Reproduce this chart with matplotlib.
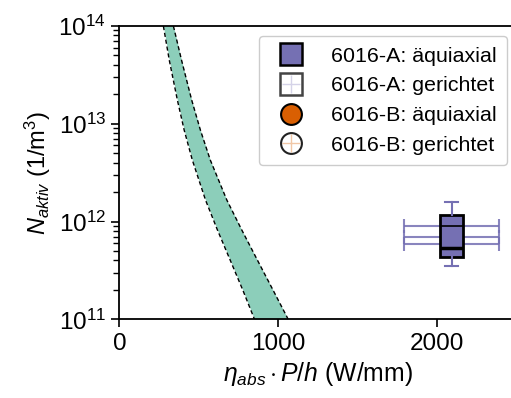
import numpy as np
import matplotlib
matplotlib.use("Agg")
import matplotlib.pyplot as plt
from matplotlib.lines import Line2D
from matplotlib.legend_handler import HandlerTuple

plt.rcParams["font.family"] = ["Liberation Sans", "DejaVu Sans"]
plt.rcParams["mathtext.fontset"] = "custom"
plt.rcParams["mathtext.rm"] = "Liberation Sans"
plt.rcParams["mathtext.it"] = "Liberation Sans:italic"

# Band (Prozessfenster)
band_n = [1e14, 4.49e13, 1.75e13, 8.6e12, 4.26e12, 1.66e12, 8.2e11, 4.04e11, 2.0e11, 1e11]
band_x_low = [277, 314, 365, 408, 459, 542, 617, 697, 776, 850]
band_x_high = [340, 391, 455, 510, 572, 676, 770, 868, 966, 1062]

# 6016-A aequiaxial box
box_pos = 2091
box_stats = dict(whislo=3.5e11, q1=4.3e11, med=5.3e11, mean=9.0e11,
                 q3=1.16e12, whishi=1.57e12, fliers=[])
# x-uncertainty bars
err_y = [9.0e11, 6.9e11, 5.9e11]
err_x = 2091
err_dx = 298

purple = "#7570b3"
orange = "#d95f02"
green = "#1b9e77"

fig = plt.figure(figsize=(5.11, 3.98), dpi=100)
ax = fig.add_axes([0.2335, 0.1977, 0.778, 0.737])
ax.set_yscale("log")

ax.fill_betweenx(band_n, band_x_low, band_x_high, color=green, alpha=0.5, lw=0, zorder=1)
ax.plot(band_x_low, band_n, color="black", ls=(0, (3, 2)), lw=1, zorder=2)
ax.plot(band_x_high, band_n, color="black", ls=(0, (3, 2)), lw=1, zorder=2)

for y in err_y:
    ax.errorbar(err_x, y, xerr=err_dx, color=purple, alpha=0.85, lw=1.5,
                capsize=5, capthick=1.5, zorder=3)

ax.bxp([box_stats], positions=[box_pos], widths=146, patch_artist=True,
       showmeans=True, meanline=True, showfliers=False,
       boxprops=dict(facecolor=purple, edgecolor="black", lw=2),
       medianprops=dict(color="black", lw=2.5),
       meanprops=dict(color="black", lw=1.2, ls="-"),
       whiskerprops=dict(color=purple, lw=1.5),
       capprops=dict(color=purple, lw=1.5), capwidths=80,
       manage_ticks=False, zorder=4)

ax.set_xlim(0, 2500)
ax.set_ylim(1e11, 1e14)
ax.set_xticks([0, 1000, 2000])

ax.tick_params(labelsize=17.5, width=1.2)
ax.tick_params(which="major", length=6)
ax.tick_params(which="minor", length=4, width=1)
for s in ax.spines.values():
    s.set_linewidth(1.3)

ax.set_ylabel(r"$N_{aktiv}$ (1/m$^3$)", fontsize=17)
ax.set_xlabel(r"$\eta_{abs}\cdot P/h$ (W/mm)", fontsize=17.8)

h1 = Line2D([], [], ls="none", marker="s", ms=15.5, mfc=purple, mec="black", mew=1.8)
h2a = Line2D([], [], ls="none", marker="s", ms=15.5, mfc="white", mec="#444444", mew=1.8)
h2b = Line2D([], [], ls="none", marker="+", ms=13, color=purple, alpha=0.3, mew=1)
h3 = Line2D([], [], ls="none", marker="o", ms=15, mfc=orange, mec="black", mew=1.5)
h4a = Line2D([], [], ls="none", marker="o", ms=15, mfc="white", mec="#222222", mew=1.5)
h4b = Line2D([], [], ls="none", marker="+", ms=13, color=orange, alpha=0.35, mew=1)

ax.legend([h1, (h2a, h2b), h3, (h4a, h4b)],
          ["6016-A: äquiaxial", "6016-A: gerichtet", "6016-B: äquiaxial", "6016-B: gerichtet"],
          handler_map={tuple: HandlerTuple(ndivide=1, pad=0)},
          loc="upper right", bbox_to_anchor=(0.975, 0.966), borderaxespad=0,
          fontsize=15.4, handlelength=2.0, labelspacing=0.5, handletextpad=0.85,
          borderpad=0.5, fancybox=True, framealpha=1)

fig.savefig("out.png", dpi=100)
